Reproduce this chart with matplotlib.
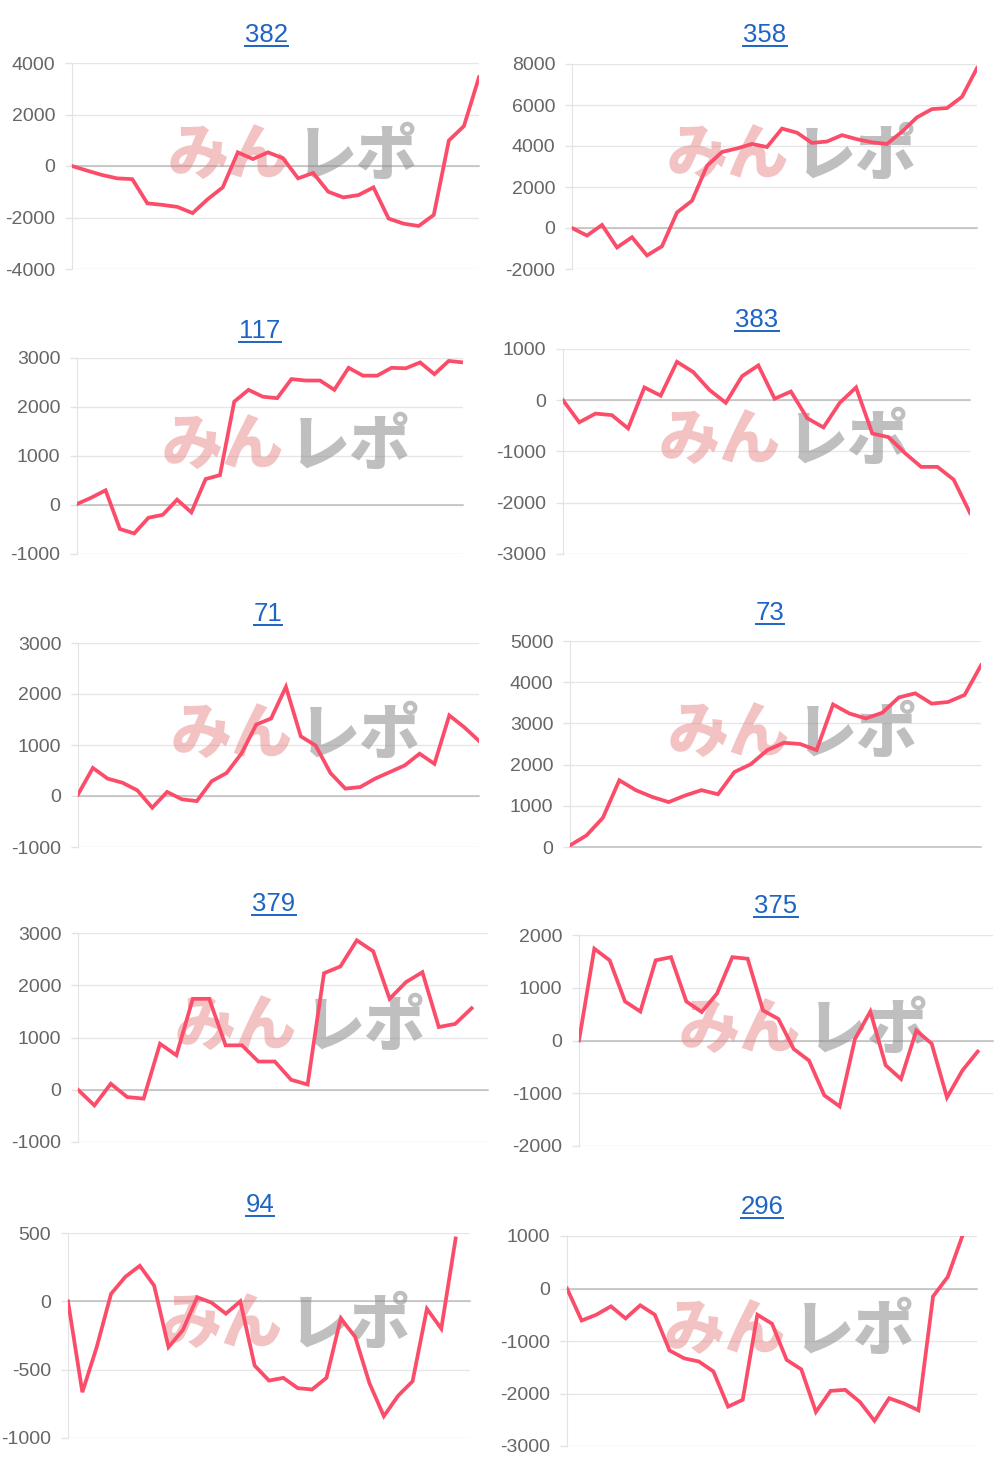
import matplotlib
matplotlib.use('Agg')
import matplotlib.pyplot as plt
from matplotlib.lines import Line2D
import numpy as np

plt.rcParams['font.family'] = ['Liberation Sans', 'DejaVu Sans']

# machine numbers (panel titles)
titles = ['382', '358', '117', '383', '71', '73', '379', '375', '94', '296']

# daily running balance
s382 = [0, -180, -350, -480, -510, -1450, -1510, -1590, -1830, -1290, -830, 530, 270, 530,
        300, -480, -270, -1000, -1220, -1130, -830, -2040, -2240, -2330, -1900, 990, 1550, 3450]
s358 = [0, -370, 150, -950, -450, -1340, -890, 760, 1330, 3030, 3710, 3880, 4100, 3950,
        4850, 4650, 4150, 4220, 4530, 4330, 4180, 4100, 4700, 5400, 5800, 5850, 6400, 7800]
s117 = [20, 150, 300, -490, -580, -260, -200, 110, -150, 530, 610, 2110, 2350, 2210,
        2180, 2570, 2540, 2540, 2350, 2800, 2640, 2640, 2800, 2790, 2910, 2670, 2940, 2910]
s383 = [0, -430, -260, -290, -550, 250, 90, 750, 550, 200, -50, 470, 680, 30,
        170, -350, -530, -50, 250, -650, -720, -1030, -1300, -1300, -1550, -2200]
s71 = [30, 550, 340, 260, 110, -230, 80, -65, -100, 290, 450, 830, 1400, 1520,
       2140, 1170, 990, 450, 145, 175, 340, 470, 600, 830, 630, 1580, 1350, 1080]
s73 = [40, 280, 710, 1620, 1380, 1215, 1090, 1250, 1380, 1280, 1820, 2010, 2350, 2530,
       2500, 2350, 3460, 3240, 3120, 3260, 3630, 3730, 3480, 3520, 3690, 4410]
s379 = [0, -300, 115, -140, -170, 880, 660, 1740, 1740, 850, 850, 540, 540, 190,
        100, 2230, 2360, 2860, 2650, 1740, 2060, 2250, 1200, 1260, 1560]
s375 = [0, 1740, 1520, 740, 550, 1520, 1580, 740, 540, 890, 1580, 1550, 570, 410,
        -160, -380, -1040, -1250, 30, 550, -470, -730, 190, -60, -1080, -570, -210]
s94 = [0, -665, -335, 55, 180, 260, 115, -335, -210, 30, -10, -90, 0, -470,
       -580, -560, -635, -645, -560, -125, -260, -600, -840, -690, -585, -55, -200, 460]
s296 = [0, -610, -500, -340, -570, -320, -500, -1180, -1330, -1390, -1580, -2250, -2120, -500,
        -670, -1360, -1540, -2350, -1950, -1930, -2160, -2520, -2090, -2190, -2320, -150, 220, 1000]
series = [s382, s358, s117, s383, s71, s73, s379, s375, s94, s296]

# y axis tick values per panel
ticks382 = [-4000, -2000, 0, 2000, 4000]
ticks358 = [-2000, 0, 2000, 4000, 6000, 8000]
ticks117 = [-1000, 0, 1000, 2000, 3000]
ticks383 = [-3000, -2000, -1000, 0, 1000]
ticks71 = [-1000, 0, 1000, 2000, 3000]
ticks73 = [0, 1000, 2000, 3000, 4000, 5000]
ticks379 = [-1000, 0, 1000, 2000, 3000]
ticks375 = [-2000, -1000, 0, 1000, 2000]
ticks94 = [-1000, -500, 0, 500]
ticks296 = [-3000, -2000, -1000, 0, 1000]
yticks = [ticks382, ticks358, ticks117, ticks383, ticks71, ticks73,
          ticks379, ticks375, ticks94, ticks296]

# number of day slots on the x axis
nslots = [28, 28, 28, 26, 28, 26, 26, 28, 29, 29]

W, H = 1000, 1467
# plot boxes in pixels: left, top, right, bottom
boxes = [(72, 63, 479, 269), (572, 64, 977, 269),
         (77, 358, 463, 554), (563, 349, 970, 554),
         (78, 643, 479, 847), (570, 641, 981, 847),
         (78, 933, 488, 1142), (579, 935, 993, 1146),
         (68, 1233, 470, 1438), (567, 1236, 977, 1446)]
title_pos = [(266, 35), (765, 35), (260, 331), (757, 320), (268, 614),
             (770, 613), (274, 904), (776, 906), (260, 1205), (762, 1207)]

fig = plt.figure(figsize=(W / 100, H / 100), dpi=100)

title_texts = []
for i in range(len(series)):
    l, t, r, b = boxes[i]
    ax = fig.add_axes([l / W, 1 - b / H, (r - l) / W, (b - t) / H])
    vals = series[i]
    x = np.arange(len(vals))
    ax.plot(x, vals, color='#fb4d6a', lw=2.7, solid_joinstyle='miter', zorder=5)
    ax.set_xlim(0, nslots[i] - 1)
    ax.set_ylim(yticks[i][0], yticks[i][-1])
    ax.set_yticks(yticks[i])
    ax.set_yticklabels([str(v) for v in yticks[i]])
    ax.set_xticks([])
    ax.tick_params(axis='y', length=5, width=1, color='#e3e3e3', pad=7,
                   labelsize=14, labelcolor='#666666')
    ax.yaxis.grid(True, color='#e6e6e6', lw=1)
    ax.set_axisbelow(True)
    for sp in ['top', 'right', 'bottom']:
        ax.spines[sp].set_visible(False)
    ax.spines['left'].set_color('#e3e3e3')
    ax.axhline(0, color='#bdbdbd', lw=1.1, zorder=2, clip_on=False)
    # watermark
    ax.text(0.535, 0.545, 'みん', transform=ax.transAxes, ha='right', va='center',
            fontsize=44, fontweight='black', color='#e57b7b', alpha=0.45,
            family=['Noto Sans CJK JP'], zorder=3)
    ax.text(0.55, 0.545, 'レポ', transform=ax.transAxes, ha='left', va='center',
            fontsize=44, fontweight='black', color='#8c8c8c', alpha=0.55,
            family=['Noto Sans CJK JP'], zorder=3)
    tx, ty = title_pos[i]
    title_texts.append(fig.text(tx / W, 1 - ty / H, titles[i], ha='center', va='center',
                                fontsize=18.5, color='#1d64c4'))

# underline the titles like links
fig.canvas.draw()
for txt in title_texts:
    bb = txt.get_window_extent()
    yl = (bb.y0 + 1) / H
    fig.add_artist(Line2D([bb.x0 / W, bb.x1 / W], [yl, yl], color='#1d64c4', lw=1.4))

fig.savefig('out.png', dpi=100, facecolor='white')
